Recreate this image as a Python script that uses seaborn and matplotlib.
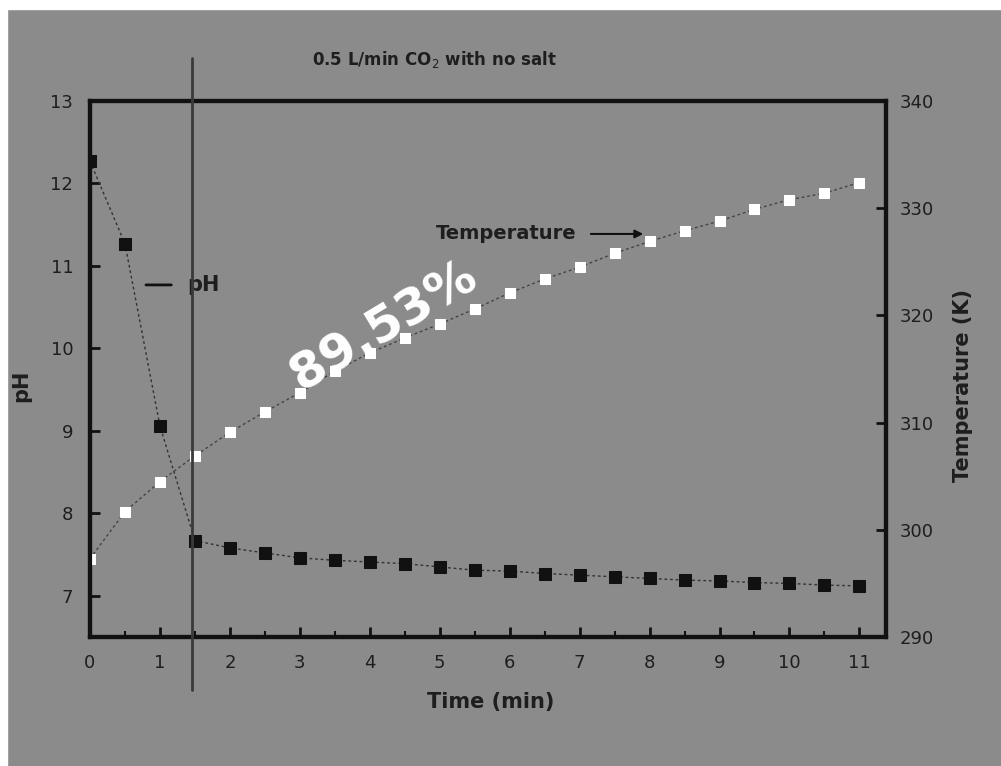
import numpy as np
import pandas as pd
import matplotlib
matplotlib.use('Agg')
import matplotlib.pyplot as plt
import seaborn as sns
from matplotlib.lines import Line2D
from matplotlib.patches import Rectangle

# 数据：时间 (min)、pH、温度 (K)
time_min = [0, 0.5, 1, 1.5, 2, 2.5, 3, 3.5, 4, 4.5, 5, 5.5, 6, 6.5, 7, 7.5, 8, 8.5, 9, 9.5, 10, 10.5, 11]
ph_vals = [12.27, 11.27, 9.06, 7.67, 7.58, 7.52, 7.46, 7.43, 7.41, 7.39, 7.35, 7.31,
           7.30, 7.27, 7.25, 7.23, 7.21, 7.19, 7.18, 7.16, 7.15, 7.13, 7.12]
temp_vals = [297.3, 301.7, 304.5, 306.9, 309.1, 311.0, 312.8, 314.8, 316.5, 317.9, 319.2, 320.6,
             322.1, 323.4, 324.5, 325.8, 326.9, 327.9, 328.8, 329.9, 330.8, 331.4, 332.4]
ph_ticks = [7, 8, 9, 10, 11, 12, 13]
temp_ticks = [290, 300, 310, 320, 330, 340]
x_ticks = list(range(0, 12))

df = pd.DataFrame({'time': time_min, 'pH': ph_vals, 'T': temp_vals})

sns.set_theme(style='ticks')
plt.rcParams['font.family'] = ['DejaVu Sans']
bg = '#8b8b8b'
ink = '#1e1e1e'

fig = plt.figure(figsize=(10.01, 7.66), dpi=100, facecolor=bg)
ax = fig.add_axes([0.0899, 0.1684, 0.7952, 0.6997])
ax.set_facecolor(bg)
ax2 = ax.twinx()

# pH 曲线
sns.lineplot(data=df, x='time', y='pH', ax=ax, color='#333333', lw=1, ls=(0, (2, 2)),
             marker='s', markersize=9, markerfacecolor='#111111', markeredgecolor='#111111')
# 温度曲线
sns.lineplot(data=df, x='time', y='T', ax=ax2, color='#444444', lw=1, ls=(0, (2, 2)),
             marker='s', markersize=6.5, markerfacecolor='white', markeredgecolor='white')

ax.set_xlim(0, 11.38)
ax.set_ylim(6.5, 13)
ax2.set_ylim(290, 340)
ax.set_xticks(x_ticks)
ax.set_xticks(np.arange(0.5, 11, 1), minor=True)
ax.set_yticks(ph_ticks)
ax2.set_yticks(temp_ticks)

for a in (ax, ax2):
    for s in a.spines.values():
        s.set_linewidth(3)
        s.set_color('#111111')
ax.tick_params(axis='both', which='major', direction='in', length=7, width=2, color='#111111',
               labelsize=13, labelcolor=ink, pad=12)
ax.tick_params(axis='x', which='minor', direction='in', length=4, width=1.5, color='#111111')
ax2.tick_params(axis='y', direction='in', length=7, width=2, color='#111111',
                labelsize=13, labelcolor=ink, pad=10)

ax.set_xlabel('Time (min)', fontsize=15, fontweight='bold', color=ink)
ax.xaxis.set_label_coords(0.503, -0.103)
ax.set_ylabel('pH', fontsize=15, fontweight='bold', color=ink)
ax.yaxis.set_label_coords(-0.074, 0.468)
ax2.set_ylabel('Temperature (K)', fontsize=15, fontweight='bold', color=ink, rotation=90)
ax2.yaxis.set_label_coords(1.084, 0.47)

fig.text(0.434, 0.922, '0.5 L/min CO$_2$ with no salt', ha='center', va='center',
         fontsize=12, fontweight='bold', color=ink)

# 注释
ax.annotate('pH', xy=(0.8, 10.77), xytext=(1.62, 10.77), fontsize=15, fontweight='bold',
            color=ink, va='center', ha='center',
            arrowprops=dict(arrowstyle='-', color='#111111', lw=2, shrinkA=9, shrinkB=0))
ax2.annotate('Temperature', xy=(7.95, 327.6), xytext=(5.95, 327.6), fontsize=14,
             fontweight='bold', color=ink, va='center', ha='center',
             arrowprops=dict(arrowstyle='-|>', color='#111111', lw=1.5, mutation_scale=12,
                             shrinkA=8))

# 水印
fig.text(0.383, 0.575, '89.53%', ha='center', va='center', rotation=31,
         fontsize=36, fontweight='bold', color='white')

# 竖线与白边
fig.add_artist(Line2D([0.1918, 0.1918], [0.099, 0.924], transform=fig.transFigure,
                      color='#3a3a3a', lw=2))
fig.add_artist(Rectangle((0, 0.988), 1, 0.012, transform=fig.transFigure, color='white'))
fig.add_artist(Rectangle((0, 0), 0.007, 1, transform=fig.transFigure, color='white'))

fig.savefig('out.png', dpi=100, facecolor=bg)
